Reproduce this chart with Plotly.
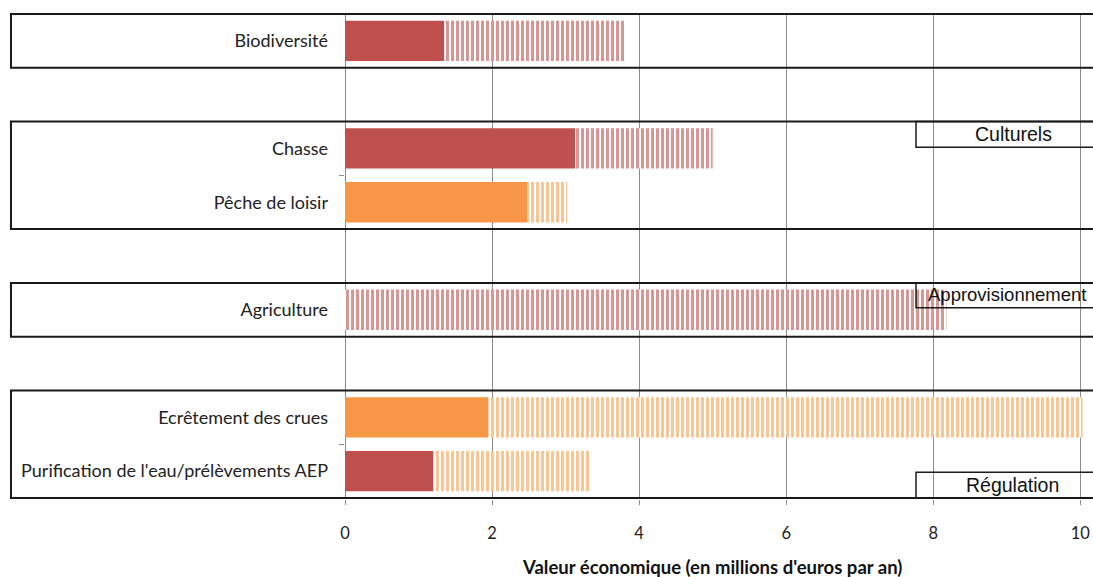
import plotly.graph_objects as go

# ---- data ----
categories = ["Biodiversité", " ", "Chasse", "Pêche de loisir", "  ", "Agriculture",
              "   ", "Ecrêtement des crues", "Purification de l'eau/prélèvements AEP"]
solid_values = [1.35, None, 3.13, 2.48, None, 0.0, None, 1.95, 1.20]
total_values = [3.81, None, 5.00, 3.02, None, 8.18, None, 10.03, 3.33]
solid_group = ["red", None, "red", "orange", None, None, None, "orange", "red"]
hatch_group = ["red", None, "red", "orange", None, "red", None, "orange", "orange"]
x_ticks = [0, 2, 4, 6, 8, 10]
x_title = "Valeur économique (en millions d'euros par an)"
group_boxes = [(-0.5, 0.5), (1.5, 3.5), (4.5, 5.5), (6.5, 8.5)]
service_labels = ["Culturels", "Approvisionnement", "Régulation"]

# ---- styles ----
SOLID = {"red": "#C0504D", "orange": "#F79646"}
HATCH = {"red": "#D99694", "orange": "#FBC592"}
LABEL_FONT = "Lato, 'Open Sans', sans-serif"

hatch_values = [None if t is None else t - (s or 0) for s, t in zip(solid_values, total_values)]

fig = go.Figure()
for g in ["red", "orange"]:
    xs = [v if sg == g else None for v, sg in zip(solid_values, solid_group)]
    fig.add_trace(go.Bar(y=categories, x=xs, orientation="h", marker=dict(color=SOLID[g], line=dict(width=0)),
                         showlegend=False))
for g in ["red", "orange"]:
    xs = [v if hg == g else None for v, hg in zip(hatch_values, hatch_group)]
    base = [(s or 0) if hg == g else None for s, hg in zip(solid_values, hatch_group)]
    fig.add_trace(go.Bar(y=categories, x=xs, base=base, orientation="h",
                         marker=dict(color="white", line=dict(width=0),
                                     pattern=dict(shape="|", fgcolor=HATCH[g], bgcolor="white",
                                                  size=5, solidity=0.6, fillmode="replace")),
                         showlegend=False))

shapes = []
for y0, y1 in group_boxes:
    shapes.append(dict(type="rect", xref="paper", yref="y", x0=-0.452, x1=1.06, y0=y0, y1=y1,
                       line=dict(color="#1a1a1a", width=2), fillcolor="rgba(0,0,0,0)", layer="above"))

label_boxes = [(1.5, 1.98), (4.5, 4.96), (8.02, 8.5)]
for (y0, y1) in label_boxes:
    shapes.append(dict(type="rect", xref="paper", yref="y", x0=0.7727, x1=1.06, y0=y0, y1=y1,
                       line=dict(color="#1a1a1a", width=1.5), fillcolor="rgba(0,0,0,0)", layer="above"))

BOX_FONT = dict(family="Liberation Sans, Arial", size=19.5, color="#111")
BOX_FONT_LONG = dict(family="Liberation Sans, Arial", size=18.5, color="#111")
annotations = [
    dict(text=service_labels[0], x=9.09, y=1.74, xref="x", yref="y", showarrow=False,
         xanchor="center", yanchor="middle", font=BOX_FONT),
    dict(text=service_labels[1], x=7.9, y=4.72, xref="x", yref="y", showarrow=False,
         xanchor="left", yanchor="middle", font=BOX_FONT_LONG),
    dict(text=service_labels[2], x=9.08, y=8.26, xref="x", yref="y", showarrow=False,
         xanchor="center", yanchor="middle", font=BOX_FONT),
    dict(text="<b>" + x_title + "</b>", x=0.497, y=-0.14, xref="paper", yref="paper", showarrow=False,
         xanchor="center", yanchor="middle", font=dict(family=LABEL_FONT, size=18.5, color="#111")),
]

fig.update_layout(
    width=1093, height=577,
    margin=dict(l=345, r=9, t=13, b=78, autoexpand=False),
    plot_bgcolor="white", paper_bgcolor="white",
    barmode="overlay", bargap=0.25,
    shapes=shapes, annotations=annotations,
    xaxis=dict(range=[0, 10.05], tickvals=x_ticks, showgrid=True, gridcolor="#8c8c8c", gridwidth=1,
               zeroline=True, zerolinecolor="#8c8c8c", zerolinewidth=1, automargin=False,
               ticks="outside", ticklen=5, tickcolor="#8c8c8c", ticklabelstandoff=14,
               tickfont=dict(family=LABEL_FONT, size=16.5, color="#222"), showline=False),
    yaxis=dict(categoryorder="array", categoryarray=categories, autorange="reversed",
               tickson="boundaries", ticks="outside", ticklen=5, tickcolor="#8c8c8c", automargin=False,
               tickfont=dict(family=LABEL_FONT, size=18, color="#222"), showgrid=False,
               showline=False, ticklabelstandoff=16),
)

fig.write_html("out.html")
